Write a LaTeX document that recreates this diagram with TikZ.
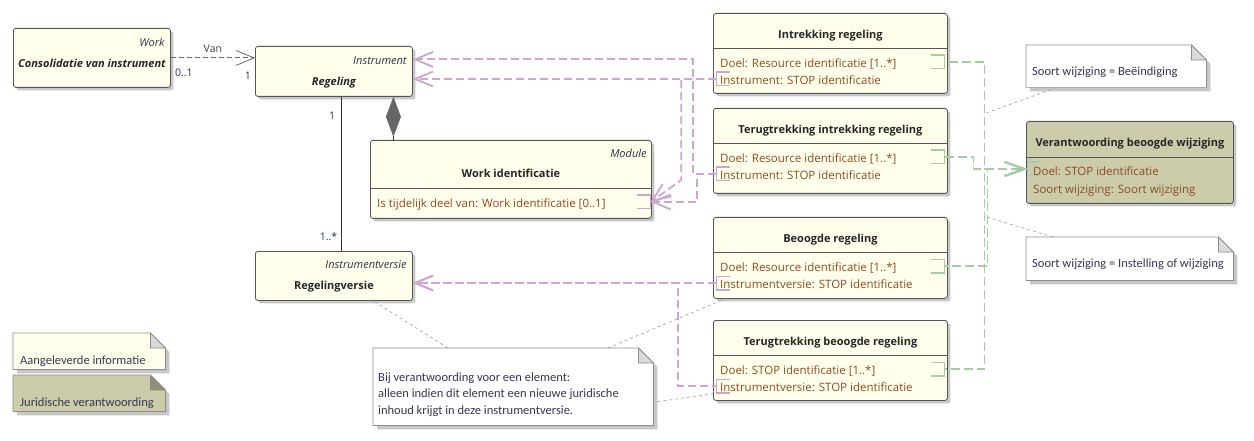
\documentclass[tikz,border=0pt]{standalone}
\usepackage{fontspec}
\setmainfont{Open Sans}
\newfontfamily\notefont{Carlito}
\usetikzlibrary{arrows.meta,shadows,positioning}

\definecolor{klassegeel}{RGB}{255,255,236}
\definecolor{juridisch}{RGB}{204,203,170}
\definecolor{rand}{RGB}{85,85,85}
\definecolor{paars}{RGB}{204,166,204}
\definecolor{groen}{RGB}{166,204,166}
\definecolor{attrbruin}{RGB}{140,75,35}
\definecolor{stereo}{RGB}{50,50,75}
\definecolor{notetekst}{RGB}{55,55,80}
\definecolor{multi}{RGB}{35,45,90}

\tikzset{
  klasse/.style={draw=rand, fill=klassegeel, line width=0.8pt, rounded corners=2.5pt, anchor=north west, inner sep=0pt,
    drop shadow={shadow xshift=3pt, shadow yshift=-3pt, fill=black!22, opacity=1}},
  tekst/.style={inner sep=0pt, text height=8.5pt, text depth=2.5pt, yshift=-2.5pt},
  stereotype/.style={tekst, font=\fontsize{11}{13}\selectfont\itshape, text=stereo, anchor=east},
  naam/.style={tekst, font=\fontsize{11}{13}\selectfont\bfseries, text=black!85},
  attr/.style={tekst, font=\fontsize{11.5}{13}\selectfont, text=attrbruin, anchor=west},
  mult/.style={tekst, font=\fontsize{10.5}{12}\selectfont, text=multi},
  poort/.style={minimum width=13pt, minimum height=13pt, inner sep=0pt},
  notitievak/.style={anchor=north west, inner sep=0pt},
  notetekst/.style={inner sep=0pt, text=notetekst, font=\notefont\fontsize{12.5}{16.5}\selectfont, align=left, anchor=west},
  paarspijl/.style={draw=paars, line width=1.8pt, dash pattern=on 8pt off 4pt,
    -{Straight Barb[length=18pt,width=15pt,line width=1.8pt]}},
  groenpijl/.style={draw=groen, line width=1.8pt, dash pattern=on 9pt off 4pt,
    -{Straight Barb[length=20pt,width=14pt,line width=1.8pt]}},
  vanpijl/.style={draw=black!60, line width=0.8pt, dash pattern=on 5pt off 3pt,
    -{Straight Barb[length=18pt,width=15pt,line width=0.8pt]}},
  assoclijn/.style={draw=black!80, line width=0.7pt},
  samenstelling/.style={draw=black!80, line width=0.7pt, -{Diamond[length=40pt,width=15pt,color=black!60]}},
  notelijn/.style={draw=black!35, line width=0.7pt, dash pattern=on 3pt off 3pt}
}

% notitie met ezelsoor: naam, vulling, kleur van de vouw
\newcommand{\ezelsoor}[3]{%
  \fill[black!22] ([shift={(4,4)}]#1.north west) -- ([shift={(-11,4)}]#1.north east) -- ([shift={(4,19)}]#1.north east)
    -- ([shift={(4,4)}]#1.south east) -- ([shift={(4,4)}]#1.south west) -- cycle;
  \draw[draw=black!45, line width=0.7pt, fill=#2] (#1.north west) -- ([xshift=-15pt]#1.north east) -- ([yshift=-15pt]#1.north east)
    -- (#1.south east) -- (#1.south west) -- cycle;
  \draw[draw=black!45, line width=0.7pt, fill=#3] ([xshift=-15pt]#1.north east) -- ([shift={(-15,15)}]#1.north east)
    -- ([yshift=-15pt]#1.north east) -- cycle;
}

\begin{document}
\begin{tikzpicture}[x=1pt, y=-1pt]
  \useasboundingbox (0,0) rectangle (1254,441);

  % klassen links
  \node[klasse, minimum width=157pt, minimum height=59pt] (consolidatie) at (13,28) {};
  \node[stereotype] at ([xshift=-6pt,yshift=-13pt]consolidatie.north east) {Work};
  \node[naam, font=\fontsize{11}{13}\selectfont\bfseries\itshape] at ([yshift=-34pt]consolidatie.north) {Consolidatie van instrument};

  \node[klasse, minimum width=157pt, minimum height=50pt] (regeling) at (255,46) {};
  \node[stereotype] at ([xshift=-6pt,yshift=-13pt]regeling.north east) {Instrument};
  \node[naam, font=\fontsize{11}{13}\selectfont\bfseries\itshape] at ([yshift=-34pt]regeling.north) {Regeling};

  \node[klasse, minimum width=281pt, minimum height=78pt] (workid) at (370,140) {};
  \draw[rand, line width=0.8pt] ([yshift=-48pt]workid.north west) -- ([yshift=-48pt]workid.north east);
  \node[stereotype] at ([xshift=-5pt,yshift=-12pt]workid.north east) {Module};
  \node[naam] at ([yshift=-32pt]workid.north) {Work identificatie};
  \node[attr] at ([xshift=7pt,yshift=-62pt]workid.north west) {Is tijdelijk deel van: Work identificatie [0..1]};
  \node[poort] (workid-port) at ([xshift=-8pt,yshift=-62pt]workid.north east) {};

  \node[klasse, minimum width=157pt, minimum height=49pt] (regelingversie) at (255,251) {};
  \node[stereotype] at ([xshift=-6pt,yshift=-12pt]regelingversie.north east) {Instrumentversie};
  \node[naam] at ([yshift=-33pt]regelingversie.north) {Regelingversie};

  % klassen rechts
  \foreach \naam/\boven/\hoog/\titel/\doel/\inst in {
    intrekking/13/80/Intrekking regeling/Doel: Resource identificatie [1..*]/Instrument: STOP identificatie,
    terugintrekking/108/85/Terugtrekking  intrekking regeling/Doel: Resource identificatie [1..*]/Instrument: STOP identificatie,
    beoogd/217/81/Beoogde regeling/Doel: Resource identificatie [1..*]/Instrumentversie: STOP identificatie,
    terugbeoogd/320/80/Terugtrekking beoogde regeling/Doel: STOP identificatie [1..*]/Instrumentversie: STOP identificatie}
  {
    \node[klasse, minimum width=234pt, minimum height=\hoog*1pt] (\naam) at (713,\boven) {};
    \draw[rand, line width=0.8pt] ([yshift=-35pt]\naam.north west) -- ([yshift=-35pt]\naam.north east);
    \node[naam] at ([yshift=-20pt]\naam.north) {\titel};
    \node[attr] at ([xshift=7pt,yshift=-49pt]\naam.north west) {\doel};
    \node[attr] at ([xshift=7pt,yshift=-66pt]\naam.north west) {\inst};
    \node[poort] (\naam-doel) at ([xshift=-10pt,yshift=-49pt]\naam.north east) {};
    \node[poort] (\naam-inst) at ([xshift=10pt,yshift=-66pt]\naam.north west) {};
    \draw[groen, line width=1.6pt] (\naam-doel.north west) -| (\naam-doel.south east) -- (\naam-doel.south west);
    \draw[paars, line width=1.6pt] (\naam-inst.north east) -| (\naam-inst.south west) -- (\naam-inst.south east);
  }

  \node[klasse, fill=juridisch, minimum width=207pt, minimum height=82pt] (verantwoording) at (1026,121) {};
  \draw[rand, line width=0.8pt] ([yshift=-36pt]verantwoording.north west) -- ([yshift=-36pt]verantwoording.north east);
  \node[naam] at ([yshift=-20pt]verantwoording.north) {Verantwoording beoogde wijziging};
  \node[attr] at ([xshift=7pt,yshift=-49pt]verantwoording.north west) {Doel: STOP identificatie};
  \node[attr] at ([xshift=7pt,yshift=-67pt]verantwoording.north west) {Soort wijziging: Soort wijziging};
  \node[poort] (verantwoording-port) at ([xshift=8pt,yshift=-48pt]verantwoording.north west) {};
  \draw[groen, line width=1.6pt] (verantwoording-port.north east) -| (verantwoording-port.south west) -- (verantwoording-port.south east);
  \draw[paars, line width=1.6pt] (workid-port.north west) -| (workid-port.south east) -- (workid-port.south west);

  % notities
  \node[notitievak, minimum width=180pt, minimum height=42pt] (nbeeind) at (1026,45) {};
  \ezelsoor{nbeeind}{white}{black!14}
  \node[notetekst] at ([xshift=6pt,yshift=-6pt]nbeeind.west) {Soort wijziging = Beëindiging};

  \node[notitievak, minimum width=207pt, minimum height=43pt] (ninstel) at (1026,237) {};
  \ezelsoor{ninstel}{white}{black!14}
  \node[notetekst] at ([xshift=6pt,yshift=-6pt]ninstel.west) {Soort wijziging = Instelling of wijziging};

  \node[notitievak, minimum width=280pt, minimum height=77pt] (nbij) at (373,348) {};
  \ezelsoor{nbij}{white}{black!14}
  \node[notetekst] at ([xshift=5pt,yshift=-8pt]nbij.west) {Bij verantwoording voor een element:\\alleen indien dit element een nieuwe juridische\\inhoud krijgt in deze instrumentversie.};

  \node[notitievak, minimum width=152pt, minimum height=36pt] (naangeleverd) at (13,333) {};
  \ezelsoor{naangeleverd}{klassegeel}{black!15}
  \node[notetekst] at ([xshift=7pt,yshift=-10.5pt]naangeleverd.west) {Aangeleverde informatie};

  \node[notitievak, minimum width=152pt, minimum height=36pt] (njuridisch) at (13,375) {};
  \ezelsoor{njuridisch}{juridisch}{juridisch!70!black}
  \node[notetekst] at ([xshift=7pt,yshift=-10.5pt]njuridisch.west) {Juridische verantwoording};

  % relaties tussen de klassen
  \coordinate (van-eind) at (consolidatie.east -| regeling.west);
  \draw[vanpijl] (consolidatie.east) -- node[mult, text=black!75, above=5pt] {Van} (van-eind);
  \node[mult, below right=7pt and 4pt of consolidatie.east] {0..1};
  \node[mult, below left=10pt and 4pt of van-eind] {1};

  \coordinate (assoc-boven) at ([xshift=7.5pt]regeling.south);
  \draw[assoclijn] (assoc-boven) -- (assoc-boven |- regelingversie.north);
  \node[mult, below left=12pt and 6pt of assoc-boven] {1};
  \node[mult, above left=10pt and 4pt of assoc-boven |- regelingversie.north] {1..*};

  \coordinate (comp-boven) at ([xshift=59.5pt]regeling.south);
  \draw[samenstelling] (comp-boven |- workid.north) -- (comp-boven);

  % verwijzingen naar de identificaties
  \coordinate (regeling-boven) at ([yshift=12pt]regeling.east);
  \draw[paarspijl] (intrekking-inst.west) -- (intrekking-inst.west -| regeling.east);
  \draw[paarspijl] (intrekking-inst.west) -- ++(-35,0) -- ++(0,101) -- (workid-port.east);
  \draw[paarspijl] (terugintrekking-inst.west) -- ++(-23,0) |- (regeling-boven);
  \draw[paarspijl] (terugintrekking-inst.west) -- ++(-19,0) |- (workid-port.east);
  \draw[paarspijl] (beoogd-inst.west) -- (beoogd-inst.west -| regelingversie.east);
  \draw[paarspijl, dash phase=4pt] (terugbeoogd-inst.west) -- ++(-38,0) |- (beoogd-inst.west -| regelingversie.east);

  \draw[groenpijl, dash phase=9pt] (intrekking-doel.east) -- ++(40,0) |- (verantwoording-port.west);
  \draw[groenpijl] (terugintrekking-doel.east) -- ++(29,0) |- (verantwoording-port.west);
  \draw[groenpijl, dash phase=6pt] (beoogd-doel.east) -- ++(43,0) |- (verantwoording-port.west);
  \draw[groenpijl, dash phase=7pt] (terugbeoogd-doel.east) -- ++(40,0) |- (verantwoording-port.west);

  % notitielijnen
  \coordinate (notepunt-boven) at (983.5,114);
  \coordinate (notepunt-onder) at (986.5,217);
  \draw[notelijn] ([xshift=31pt]nbeeind.south west) -- (notepunt-boven);
  \draw[notelijn] ([xshift=27pt]ninstel.north west) -- (notepunt-onder);
  \draw[notelijn] ([xshift=75pt]nbij.north west) -- ([xshift=118pt]regelingversie.south west);
  \draw[notelijn] ([xshift=235pt]nbij.north west) -- ([xshift=12pt]beoogd.south west);
  \draw[notelijn] ([shift={(4,15)}]nbij.east) -- ([yshift=7pt]terugbeoogd.south west);
\end{tikzpicture}
\end{document}
